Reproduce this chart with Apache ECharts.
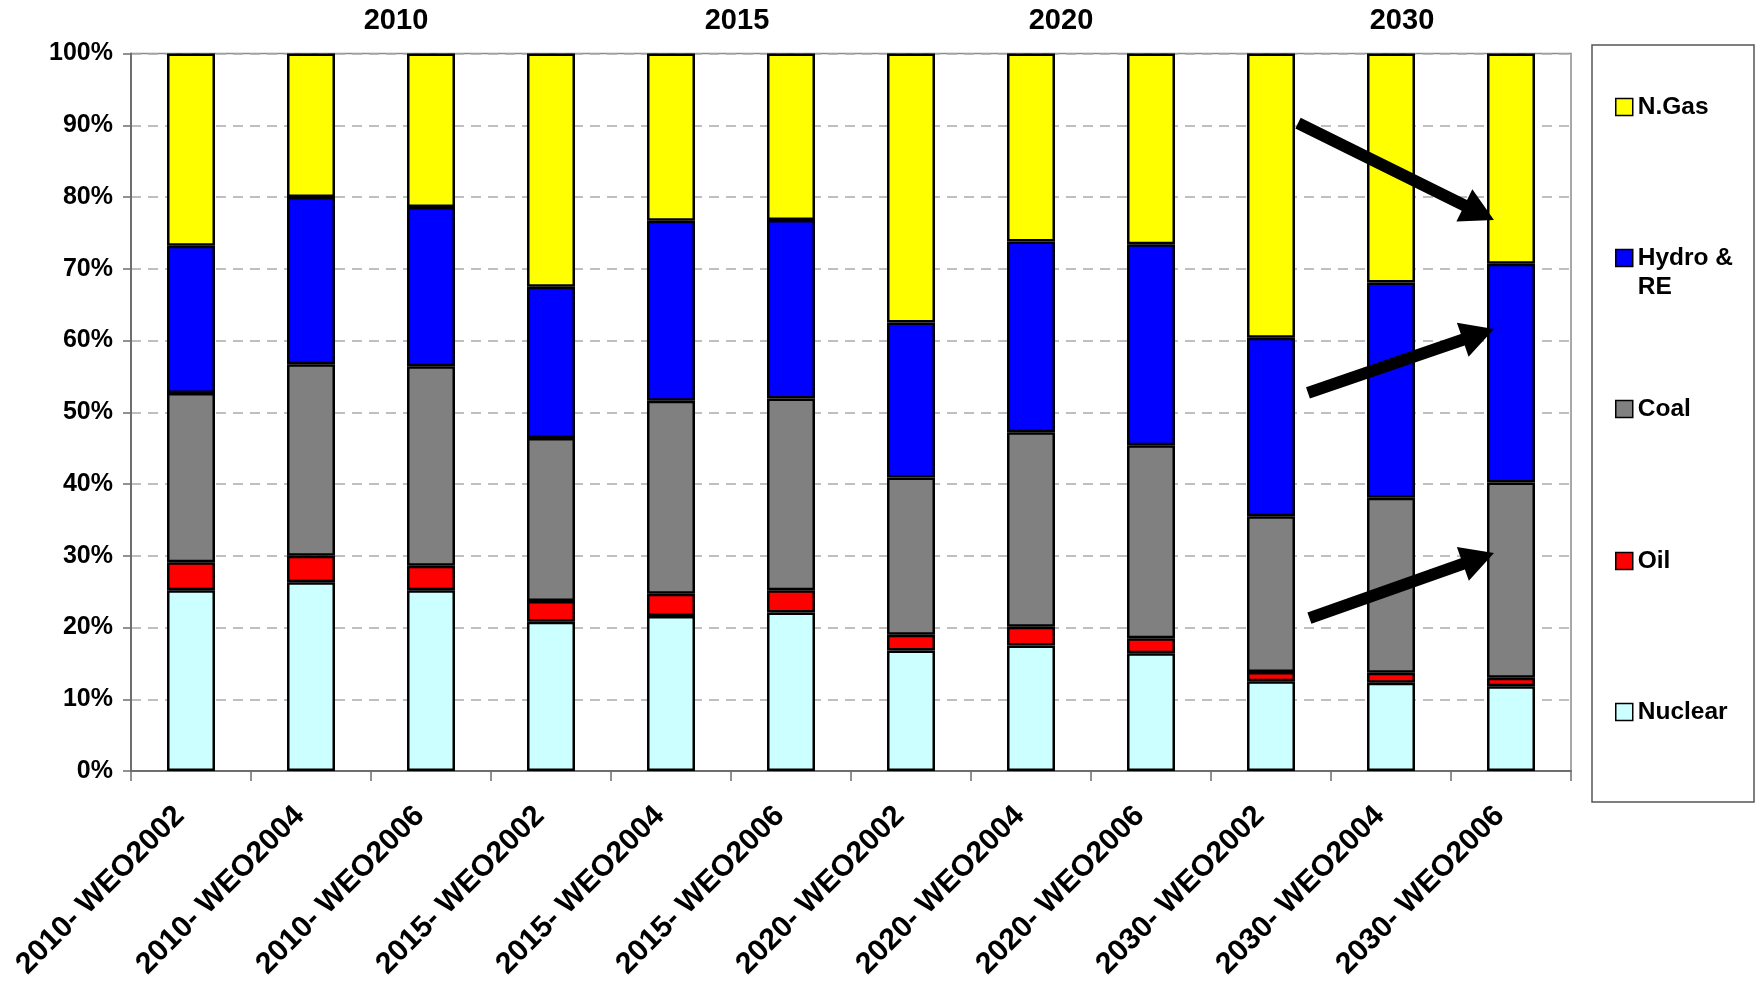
<!DOCTYPE html>
<html>
<head>
<meta charset="utf-8">
<script src="https://cdn.jsdelivr.net/npm/echarts@6/dist/echarts.min.js"></script>
<style>
  html, body { margin: 0; padding: 0; background: #fff; }
  #chart { width: 1760px; height: 984px; }
</style>
</head>
<body>
<div id="chart"></div>
<script>
// Share of power generation by source (%), per projection year and WEO edition
const categories = [
  '2010- WEO2002', '2010- WEO2004', '2010- WEO2006',
  '2015- WEO2002', '2015- WEO2004', '2015- WEO2006',
  '2020- WEO2002', '2020- WEO2004', '2020- WEO2006',
  '2030- WEO2002', '2030- WEO2004', '2030- WEO2006'
];
const nuclear = [25.2, 26.3, 25.2, 20.8, 21.6, 22.1, 16.8, 17.5, 16.4, 12.5, 12.3, 11.8];
const oil     = [3.9, 3.7, 3.4, 2.9, 3.1, 3.1, 2.2, 2.6, 2.1, 1.3, 1.4, 1.2];
const coal    = [23.6, 26.7, 27.8, 22.7, 26.9, 26.7, 21.9, 27.1, 26.9, 21.7, 24.4, 27.2];
const hydroRE = [20.5, 23.3, 22.2, 21.1, 25.1, 24.9, 21.6, 26.6, 28.0, 24.9, 30.0, 30.5];
const nGas    = [26.8, 20.0, 21.4, 32.5, 23.3, 23.2, 37.5, 26.2, 26.6, 39.6, 31.9, 29.3];

// Year headings above the groups of bars
const yearLabels = ['2010', '2015', '2020', '2030'];

// Trend arrows in data space: [categoryIndex, percent] start -> end
const arrows = [
  [[9.225, 90.3], [10.858, 76.8]],
  [[9.308, 52.7], [10.858, 61.6]],
  [[9.32, 21.3], [10.858, 30.4]]
];

const FONT = '"Liberation Sans", Arial, sans-serif';
const chart = echarts.init(document.getElementById('chart'), null, { renderer: 'canvas' });

const seriesDefs = [
  { name: 'Nuclear', data: nuclear, color: '#CCFFFF' },
  { name: 'Oil', data: oil, color: '#FF0000' },
  { name: 'Coal', data: coal, color: '#808080' },
  { name: 'Hydro & RE', data: hydroRE, color: '#0000FF' },
  { name: 'N.Gas', data: nGas, color: '#FFFF00' }
];

const series = seriesDefs.map(s => ({
  name: s.name,
  type: 'bar',
  stack: 'total',
  barWidth: 48,
  data: s.data,
  itemStyle: { color: s.color, borderColor: '#000', borderWidth: 2.5 },
  emphasis: { disabled: true },
  animation: false
}));

// One legend block per entry so each can sit at its own height
const LH = 29;
const legendRows = [
  { name: 'N.Gas', center: 107 },
  { name: 'Hydro & RE', center: 258, label: '\nHydro &\nRE', lines: 3 },
  { name: 'Coal', center: 409 },
  { name: 'Oil', center: 561 },
  { name: 'Nuclear', center: 712 }
];
const legends = legendRows.map(r => ({
  data: [r.name],
  left: 1615,
  top: r.center - (r.lines || 1) * LH / 2,
  padding: 0,
  itemWidth: 17,
  itemHeight: 17,
  itemGap: 0,
  selectedMode: false,
  icon: 'rect',
  itemStyle: { borderColor: '#000', borderWidth: 1.5 },
  formatter: r.label || '{name}',
  textStyle: {
    fontFamily: FONT, fontWeight: 'bold', fontSize: 24.5, color: '#000',
    lineHeight: LH
  }
}));

const option = {
  backgroundColor: '#fff',
  animation: false,
  grid: {
    left: 131, right: 189, top: 53.5, bottom: 213,
    outerBoundsMode: 'none',
    containLabel: false,
    show: true, borderColor: '#8c8c8c', borderWidth: 1.5, backgroundColor: 'transparent'
  },
  legend: legends,
  xAxis: {
    type: 'category',
    data: categories,
    boundaryGap: true,
    axisLine: { lineStyle: { color: '#6e6e6e', width: 2 } },
    axisTick: { show: true, length: 10, lineStyle: { color: '#6e6e6e', width: 1.5 } },
    axisLabel: {
      rotate: 45, margin: 29, interval: 0,
      padding: [0, 16, 0, 0],
      fontFamily: FONT, fontWeight: 'bold', fontSize: 30, color: '#000'
    }
  },
  yAxis: {
    type: 'value',
    min: 0, max: 100, interval: 10,
    axisLine: { show: true, lineStyle: { color: '#6e6e6e', width: 2 } },
    axisTick: { show: true, length: 8, lineStyle: { color: '#6e6e6e', width: 1.5 } },
    axisLabel: {
      formatter: '{value}%', margin: 18,
      fontFamily: FONT, fontWeight: 'bold', fontSize: 25, color: '#000'
    },
    splitLine: { show: true, lineStyle: { color: '#aaaaaa', width: 1.5, type: [10, 7] } }
  },
  series: series
};

chart.setOption(option);

// Map a fractional category position and a percentage to pixels
function toPixel(pt) {
  const a = chart.convertToPixel({ xAxisIndex: 0, yAxisIndex: 0 }, [0, pt[1]]);
  const b = chart.convertToPixel({ xAxisIndex: 0, yAxisIndex: 0 }, [1, pt[1]]);
  return [a[0] + (b[0] - a[0]) * pt[0], a[1]];
}

function arrowShape(p0, p1) {
  const shaft = 12, headLen = 33, headW = 36;
  const dx = p1[0] - p0[0], dy = p1[1] - p0[1];
  const len = Math.hypot(dx, dy);
  const ux = dx / len, uy = dy / len;
  const nx = -uy, ny = ux;
  const bx = p1[0] - ux * headLen, by = p1[1] - uy * headLen;
  return [
    [p0[0] + nx * shaft / 2, p0[1] + ny * shaft / 2],
    [bx + nx * shaft / 2, by + ny * shaft / 2],
    [bx + nx * headW / 2, by + ny * headW / 2],
    [p1[0], p1[1]],
    [bx - nx * headW / 2, by - ny * headW / 2],
    [bx - nx * shaft / 2, by - ny * shaft / 2],
    [p0[0] - nx * shaft / 2, p0[1] - ny * shaft / 2]
  ];
}

const yearX = [396, 737, 1061, 1402];
const graphics = yearLabels.map((t, i) => ({
  type: 'text',
  x: yearX[i], y: 21,
  style: {
    text: t, fill: '#000', font: 'bold 29px ' + FONT,
    align: 'center', verticalAlign: 'middle'
  },
  z: 10
}));

arrows.forEach(a => {
  graphics.push({
    type: 'polygon',
    shape: { points: arrowShape(toPixel(a[0]), toPixel(a[1])) },
    style: { fill: '#000' },
    z: 20
  });
});

// Legend frame
graphics.push({
  type: 'rect',
  shape: { x: 1592, y: 45, width: 162, height: 757 },
  style: { fill: 'none', stroke: '#555', lineWidth: 1.5 },
  z: 1
});

chart.setOption({ graphic: graphics });
</script>
</body>
</html>
